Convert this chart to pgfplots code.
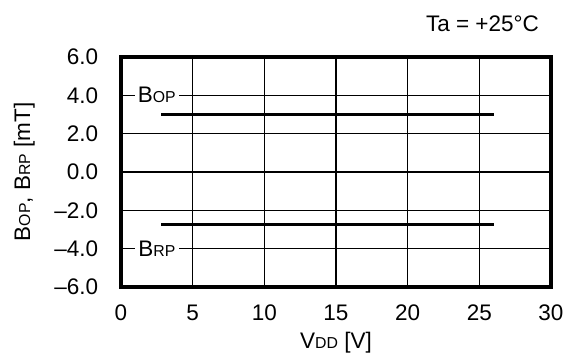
\documentclass[border=0pt]{standalone}
\usepackage{fontspec}
\setmainfont{Liberation Sans}
\usepackage{pgfplots}
\pgfplotsset{compat=1.18}

\newcommand{\sub}[1]{{\fontsize{9.5}{11}\selectfont #1}}

\begin{document}
\fontsize{13.5}{16}\selectfont
\begin{tikzpicture}
\begin{axis}[
  scale only axis,
  width=258pt, height=138pt,
  xmin=0, xmax=30, ymin=-6, ymax=6,
  xtick={0,5,...,30},
  xticklabels={0,5,10,15,20,25,30},
  ytick={-6,-4,...,6},
  yticklabels={–6.0,–4.0,–2.0,0.0,2.0,4.0,6.0},
  tick style={draw=none},
  grid=major,
  grid style={black, line width=0.8pt},
  axis line style={line width=2pt},
  xticklabel style={yshift=-6pt},
  yticklabel style={xshift=-9pt},
  xlabel={V\sub{DD} [V]},
  ylabel={B\sub{OP}, B\sub{RP} [mT]},
  xlabel style={at={(axis description cs:0.5,-0.24)}, anchor=center, inner sep=0pt},
  ylabel style={at={(axis description cs:-0.225,0.5)}, anchor=center},
  clip=false,
]
\addplot[black, line width=2pt] coordinates {(2.8,3.0) (26,3.0)};
\addplot[black, line width=2pt] coordinates {(2.8,-2.75) (26,-2.75)};
\node[fill=white, inner sep=2pt] at (axis cs:2.5,4) {B\sub{OP}};
\node[fill=white, inner sep=2pt] at (axis cs:2.5,-4) {B\sub{RP}};
\node[anchor=east] at (axis description cs:0.99,1.143) {Ta = +25°C};
\coordinate (bl) at (axis description cs:-0.2814,-0.287);
\coordinate (tr) at (axis description cs:1.0535,1.2478);
\end{axis}
\pgfresetboundingbox
\path (bl) rectangle (tr);
\end{tikzpicture}
\end{document}
